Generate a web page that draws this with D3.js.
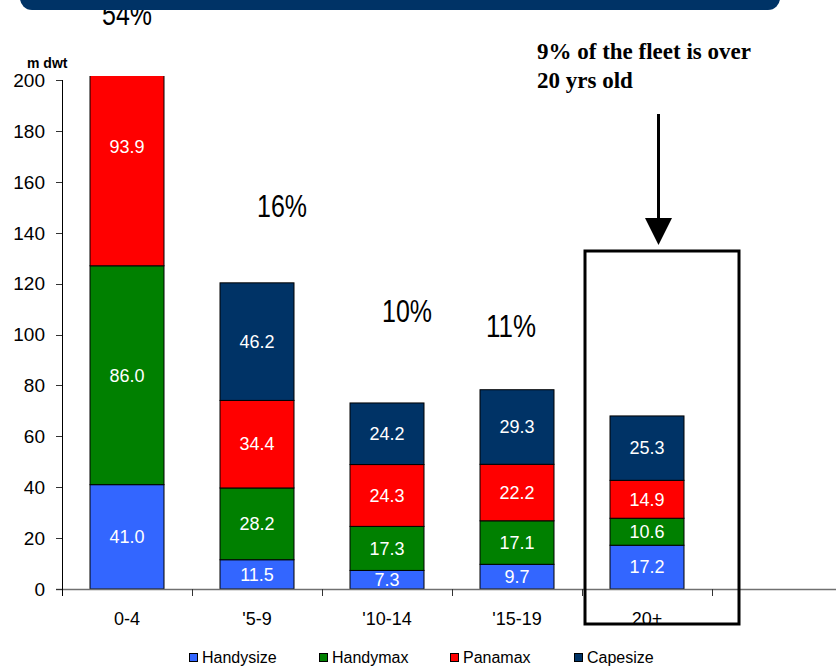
<!DOCTYPE html>
<html><head><meta charset="utf-8">
<script src="https://cdn.jsdelivr.net/npm/d3@7"></script>
<style>body{margin:0;background:#fff}svg{display:block}text{font-family:"Liberation Sans",Arial,sans-serif}text.serif{font-family:"Liberation Serif","Times New Roman",serif}</style>
</head><body><svg id="c" width="836" height="667"></svg>
<script>
const categories = ["0-4", "'5-9", "'10-14", "'15-19", "20+"];
const seriesNames = ["Handysize", "Handymax", "Panamax", "Capesize"];
const handysize = [41.0, 11.5, 7.3, 9.7, 17.2];
const handymax = [86.0, 28.2, 17.3, 17.1, 10.6];
const panamax = [93.9, 34.4, 24.3, 22.2, 14.9];
const capesize = [180.0, 46.2, 24.2, 29.3, 25.3]; // 0-4 value is off the chart (estimated)
const shareLabels = ["54%", "16%", "10%", "11%"];
const yTicks = [0, 20, 40, 60, 80, 100, 120, 140, 160, 180, 200];
const colors = ["#3366ff", "#008000", "#ff0000", "#003366"];
const noteLines = ["9% of the fleet is over", "20 yrs old"];

const svg = d3.select("#c");
const x = d3.scaleBand().domain(categories).range([62, 712]).padding(0);
const y = d3.scaleLinear().domain([0, 200]).range([589, 80]);
const bw = 74;

const rows = categories.map((c, i) => ({cat: c, Handysize: handysize[i], Handymax: handymax[i], Panamax: panamax[i], Capesize: capesize[i]}));
const stack = d3.stack().keys(seriesNames)(rows);
const color = d3.scaleOrdinal().domain(seriesNames).range(colors);

// share annotations (drawn first so the title bar overlaps the top one, as in the reference)
const sharePos = [[0, 0, 221.6], [1, 25, 146.2], [2, 20, 104.9], [3, -6, 99]];
shareLabels.forEach((t, i) => {
  const p = sharePos[i];
  svg.append("text")
    .attr("x", x(categories[p[0]]) + x.bandwidth() / 2 + p[1])
    .attr("y", y(p[2]))
    .attr("text-anchor", "middle").attr("font-size", 31)
    .attr("textLength", 50).attr("lengthAdjust", "spacingAndGlyphs")
    .text(t);
});

// title bar
svg.append("rect").attr("x", 20).attr("y", -25).attr("width", 760).attr("height", 35).attr("rx", 12).attr("fill", "#003366");

// clip
svg.append("clipPath").attr("id", "pc").append("rect").attr("x", 62).attr("y", 76).attr("width", 774).attr("height", 600);

const g = svg.append("g").attr("clip-path", "url(#pc)");
stack.forEach(s => {
  const sg = g.append("g").attr("fill", color(s.key));
  sg.selectAll("rect").data(s).join("rect")
    .attr("x", d => x(d.data.cat) + (x.bandwidth() - bw) / 2)
    .attr("width", bw)
    .attr("y", d => y(d[1]))
    .attr("height", d => y(d[0]) - y(d[1]))
    .attr("stroke", "#000").attr("stroke-width", 1);
  sg.selectAll("text").data(s).join("text")
    .attr("x", d => x(d.data.cat) + x.bandwidth() / 2)
    .attr("y", d => (y(d[0]) + y(d[1])) / 2)
    .attr("dy", "0.35em")
    .attr("text-anchor", "middle")
    .attr("fill", "#fff").attr("font-size", 18)
    .text(d => (d[1] - d[0]).toFixed(1));
});

// x axis
svg.append("line").attr("x1", 56).attr("x2", 836).attr("y1", 589.5).attr("y2", 589.5).attr("stroke", "#707070").attr("stroke-width", 1.5);
const bounds = categories.map(c => x(c)).concat([x.range()[1]]);
svg.selectAll(".xt").data(bounds).join("line")
  .attr("x1", d => d + 0.5).attr("x2", d => d + 0.5).attr("y1", 589).attr("y2", 596)
  .attr("stroke", "#333").attr("stroke-width", 1);
svg.selectAll(".xl").data(categories).join("text")
  .attr("x", d => x(d) + x.bandwidth() / 2).attr("y", 625)
  .attr("text-anchor", "middle").attr("font-size", 18).attr("fill", "#000")
  .text(d => d);

// y axis
svg.append("line").attr("x1", 62.5).attr("x2", 62.5).attr("y1", 80).attr("y2", 596).attr("stroke", "#000").attr("stroke-width", 1);
svg.selectAll(".yt").data(yTicks).join("line")
  .attr("x1", 56).attr("x2", 62).attr("y1", d => Math.round(y(d)) + 0.5).attr("y2", d => Math.round(y(d)) + 0.5)
  .attr("stroke", "#333");
svg.selectAll(".yl").data(yTicks).join("text")
  .attr("x", 45).attr("y", d => y(d)).attr("dy", "0.36em")
  .attr("text-anchor", "end").attr("font-size", 19).attr("fill", "#000")
  .text(d => d);
svg.append("text").attr("x", 27).attr("y", 68).attr("font-size", 14).attr("font-weight", "bold").text("m dwt");

// note
noteLines.forEach((t, i) => {
  svg.append("text").attr("class", "serif").attr("x", 537).attr("y", 59 + i * 29)
    .attr("font-weight", "bold").attr("font-size", 23).text(t);
});
// arrow
svg.append("line").attr("x1", 658.5).attr("x2", 658.5).attr("y1", 114).attr("y2", 222).attr("stroke", "#000").attr("stroke-width", 3);
svg.append("path").attr("d", "M645,218 L672,218 L658.5,245 Z").attr("fill", "#000");
// box around 20+
svg.append("rect").attr("x", 585).attr("y", 251).attr("width", 154).attr("height", 373)
  .attr("fill", "none").attr("stroke", "#000").attr("stroke-width", 3);

// legend
const legX = [189, 319, 450, 574];
seriesNames.forEach((n, i) => {
  svg.append("rect").attr("x", legX[i] + 0.5).attr("y", 653.5).attr("width", 8).attr("height", 8)
    .attr("fill", colors[i]).attr("stroke", "#000").attr("stroke-width", 1);
  svg.append("text").attr("x", legX[i] + 13).attr("y", 663).attr("font-size", 16).text(n);
});
</script></body></html>
